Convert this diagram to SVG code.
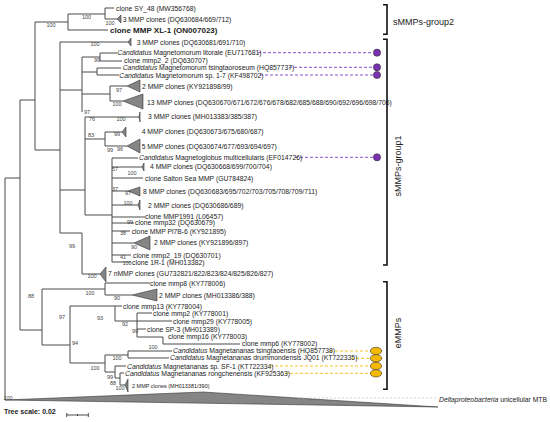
<svg xmlns="http://www.w3.org/2000/svg" width="550" height="422" viewBox="0 0 550 422">
<style>
.b{fill:none;stroke:#4a4a4a;stroke-width:1}
.t{font-family:"Liberation Sans",Arial,sans-serif;font-size:6.8px;fill:#222}
.i{font-style:italic}
.bs{font-family:"Liberation Sans",Arial,sans-serif;font-size:5.5px;fill:#444;text-anchor:middle}
.tri{fill:#858585;stroke:#333;stroke-width:0.6}
.pd{stroke:#8a4fd0;stroke-dasharray:3 2;stroke-width:1}
.yd{stroke:#f5c422;stroke-dasharray:3 2;stroke-width:1}
.pdot{fill:#7a32b0;stroke:#333;stroke-width:0.6}
.ydot{fill:#f5b800;stroke:#333;stroke-width:0.6}
.br{stroke:#111;stroke-width:1.6;fill:none}
.gl{font-family:"Liberation Sans",Arial,sans-serif;font-size:9px;fill:#222}
</style>
<rect width="550" height="422" fill="#fff"/>
<g id="connectors">
<path class="b" d="M5 178V400M5 178H20M20 100V330M20 100H35M35 22V150M35 22H68M68 14V30M68 14H105M68 30H108M105 8V19M105 8H114M105 19H117"/>
<path class="b" d="M35 150H60M60 42V233M60 42H128M60 90H82M82 57V112M82 57H100M100 53V61M100 53H117M100 61H122M82 72H97M97 68V75M97 68H121M97 75H119M82 94H110M110 86V101M110 86H127M110 101H123"/>
<path class="b" d="M60 190H85M85 117V215M85 117H139M85 139H105M105 132V146M105 132H122M105 146H127M85 215H112M112 158V262M112 158H138M112 167H142M112 178H143M112 191H128M112 205H138M112 217H145M112 223H134M112 231H130M112 243H134M112 255H131M112 262H131M60 233H82M82 233V274M82 274H100"/>
<path class="b" d="M20 330H42M42 289V345M42 289H105M105 283V295M105 283H150M105 295H132M42 345H70M70 306V363M70 306H115M115 306V321M115 306H122M115 321H137M137 313V337M137 313H152M137 321H172M137 329H146M137 337H163M163 337V344M163 344H240M70 363H105M105 355V372M105 355H128M128 351V358M128 351H172M128 358H169M105 372H115M115 366V378M115 366H126M115 378H120M120 373V385M120 373H124M120 385H125"/>
<path class="tri" d="M117 19L121 15L121 23Z"/>
<path class="tri" d="M128 42L131 38L131 46Z"/>
<path class="tri" d="M127 86L140 80L140 92Z"/>
<path class="tri" d="M123 101L143 94L143 109Z"/>
<path class="tri" d="M139 117L140 112L140 122Z"/>
<path class="tri" d="M122 132L126 127L126 137Z"/>
<path class="tri" d="M127 146L140 139L140 153Z"/>
<path class="tri" d="M142 167L144 163L144 171Z"/>
<path class="tri" d="M128 191L140 187L140 196Z"/>
<path class="tri" d="M138 205L140 200L140 210Z"/>
<path class="tri" d="M134 243L150 236L150 250Z"/>
<path class="tri" d="M100 274L106 267L106 282Z"/>
<path class="tri" d="M132 295L157 289L157 301Z"/>
<path class="tri" d="M125 385L128 379L128 392Z"/>
<path class="tri" d="M5 400L203 392L438 407Z" fill="#777"/>
<path d="M298 398H437" stroke="#bbb" stroke-width="0.6" stroke-dasharray="2 2"/>
<path class="pd" d="M258 52.7H373M289 67.3H373M260 75H373M295 157.3H373"/>
<path class="yd" d="M330 351H370M351 358.3H370M270 366H370M285 373.3H370"/>
</g>
<g id="bootstrap">
<text class="bs" x="51" y="27">100</text>
<text class="bs" x="86.5" y="18.5">100</text>
<text class="bs" x="110" y="25">100</text>
<text class="bs" x="95" y="46">100</text>
<text class="bs" x="97" y="62">99</text>
<text class="bs" x="119" y="92">97</text>
<text class="bs" x="117" y="106">100</text>
<text class="bs" x="87" y="114">97</text>
<text class="bs" x="92" y="121">76</text>
<text class="bs" x="121" y="121">100</text>
<text class="bs" x="91" y="137">83</text>
<text class="bs" x="117" y="136">99</text>
<text class="bs" x="120" y="151">96</text>
<text class="bs" x="110" y="152">99</text>
<text class="bs" x="115" y="171">57</text>
<text class="bs" x="132" y="175">100</text>
<text class="bs" x="115" y="191">37</text>
<text class="bs" x="128" y="195">97</text>
<text class="bs" x="128" y="205">100</text>
<text class="bs" x="130" y="224">99</text>
<text class="bs" x="123" y="235">38</text>
<text class="bs" x="134" y="249">90</text>
<text class="bs" x="123" y="259">41</text>
<text class="bs" x="127" y="265">100</text>
<text class="bs" x="72" y="248">99</text>
<text class="bs" x="92" y="278">100</text>
<text class="bs" x="90" y="295">100</text>
<text class="bs" x="117" y="300">90</text>
<text class="bs" x="31" y="298">88</text>
<text class="bs" x="62" y="319">97</text>
<text class="bs" x="100" y="320">93</text>
<text class="bs" x="125" y="326">92</text>
<text class="bs" x="135" y="333">99</text>
<text class="bs" x="153" y="349">100</text>
<text class="bs" x="75" y="345">94</text>
<text class="bs" x="117" y="360">100</text>
<text class="bs" x="95" y="370">100</text>
<text class="bs" x="110" y="379">99</text>
<text class="bs" x="113" y="385">88</text>
<text class="bs" x="120" y="390">100</text>
<text class="bs" x="8" y="400">100</text>
</g>
<g id="leaves">
<text class="t" x="116" y="10.8">clone SY_48 (MW356768)</text>
<text class="t" x="122.7" y="21.5">3 MMP clones (DQ630684/669/712)</text>
<text class="t" x="110" y="32.8" style="font-size:8px;font-weight:bold">clone MMP XL-1 (ON007023)</text>
<text class="t" x="136.7" y="44.8">3 MMP clones (DQ630681/691/710)</text>
<text class="t" x="117.3" y="55.2"><tspan class="i">Candidatus</tspan> Magnetomorum litorale (EU717681)</text>
<text class="t" x="124" y="63.2">clone mmp2_2 (DQ630707)</text>
<text class="t" x="122.7" y="70.2"><tspan class="i">Candidatus</tspan> Magnetomorum tsingtaoroseum (HQ857737)</text>
<text class="t" x="119.3" y="77.5"><tspan class="i">Candidatus</tspan> Magnetomorum sp. 1-7 (KF498702)</text>
<text class="t" x="142" y="88.5">2 MMP clones (KY921898/99)</text>
<text class="t" x="147" y="105.2">13 MMP clones (DQ630670/671/672/676/678/682/685/688/690/692/696/698/706)</text>
<text class="t" x="148" y="119.2">3 MMP clones (MH013383/385/387)</text>
<text class="t" x="141.7" y="134.2">4 MMP clones (DQ630673/675/680/687)</text>
<text class="t" x="141.7" y="148.5">5 MMP clones (DQ630674/677/693/694/697)</text>
<text class="t" x="139" y="159.8"><tspan class="i">Candidatus</tspan> Magnetoglobus multicellularis (EF014726)</text>
<text class="t" x="150" y="169.2">4 MMP clones (DQ630668/699/700/704)</text>
<text class="t" x="145" y="180.8">clone Salton Sea MMP (GU784824)</text>
<text class="t" x="143" y="194.2">8 MMP clones (DQ630683/695/702/703/705/708/709/711)</text>
<text class="t" x="148" y="207.5">2 MMP clones (DQ630686/689)</text>
<text class="t" x="145" y="219.2">clone MMP1991 (L06457)</text>
<text class="t" x="135" y="225.2">clone mmp32 (DQ630679)</text>
<text class="t" x="131.7" y="233.5">clone MMP Pl7B-6 (KY921895)</text>
<text class="t" x="154" y="245.2">2 MMP clones (KY921896/897)</text>
<text class="t" x="133" y="257.5">clone mmp2_19 (DQ630701)</text>
<text class="t" x="132" y="265.2">clone 1R-1 (MH013382)</text>
<text class="t" x="108" y="275.8">7 nMMP clones (GU732821/822/823/824/825/826/827)</text>
<text class="t" x="150" y="285.8">clone mmp8 (KY778006)</text>
<text class="t" x="159" y="297.5">2 MMP clones (MH013386/388)</text>
<text class="t" x="123" y="308.5">clone mmp13 (KY778004)</text>
<text class="t" x="153" y="315.8">clone mmp2 (KY778001)</text>
<text class="t" x="173" y="323.5">clone mmp29 (KY778005)</text>
<text class="t" x="147" y="331.8">clone SP-3 (MH013389)</text>
<text class="t" x="168" y="339.2">clone mmp16 (KY778003)</text>
<text class="t" x="242" y="345.8">clone mmp6 (KY778002)</text>
<text class="t" x="173" y="352.5"><tspan class="i">Candidatus</tspan> Magnetananas tsingtaoensis (HQ857738)</text>
<text class="t" x="170" y="359.8"><tspan class="i">Candidatus</tspan> Magnetananas drummondensis JQ01 (KT722335)</text>
<text class="t" x="127" y="368.5"><tspan class="i">Candidatus</tspan> Magnetananas sp. SF-1 (KT722334)</text>
<text class="t" x="125" y="375.8"><tspan class="i">Candidatus</tspan> Magnetananas rongchenensis (KF925363)</text>
<text class="t" x="132" y="388" style="font-size:5.5px">2 MMP clones (MH013381/390)</text>
<text class="t" x="439" y="401.8"><tspan class="i">Deltaproteobacteria</tspan> unicellular MTB</text>
</g>
<g id="markers">
<circle class="pdot" cx="377" cy="52.7" r="3.6"/>
<circle class="pdot" cx="377" cy="67.3" r="3.6"/>
<circle class="pdot" cx="377" cy="75" r="3.6"/>
<circle class="pdot" cx="377" cy="157.3" r="3.6"/>
<ellipse class="ydot" cx="376" cy="351" rx="5.7" ry="3.7"/>
<ellipse class="ydot" cx="376" cy="358.3" rx="5.7" ry="3.7"/>
<ellipse class="ydot" cx="376" cy="366" rx="5.7" ry="3.7"/>
<ellipse class="ydot" cx="376" cy="373.3" rx="5.7" ry="3.7"/>
</g>
<g id="groups">
<path class="br" d="M383 4.7H387V34.3H383"/>
<text class="gl" x="393" y="25">sMMPs-group2</text>
<path class="br" d="M383 39.3H387V265H383"/>
<text class="gl" text-anchor="middle" transform="translate(400.5,166) rotate(-90)">sMMPs-group1</text>
<path class="br" d="M383 281.7H387V389.3H383"/>
<text class="gl" text-anchor="middle" transform="translate(400.5,333) rotate(-90)">eMMPs</text>
</g>
<g id="scale">
<text class="t" x="4" y="414" style="font-size:7px;font-weight:bold">Tree scale: 0.02</text>
<path class="b" d="M66.7 415H88.3M66.7 413V417M88.3 413V417M77.5 414V416" stroke-width="0.8"/>
</g>
</svg>
